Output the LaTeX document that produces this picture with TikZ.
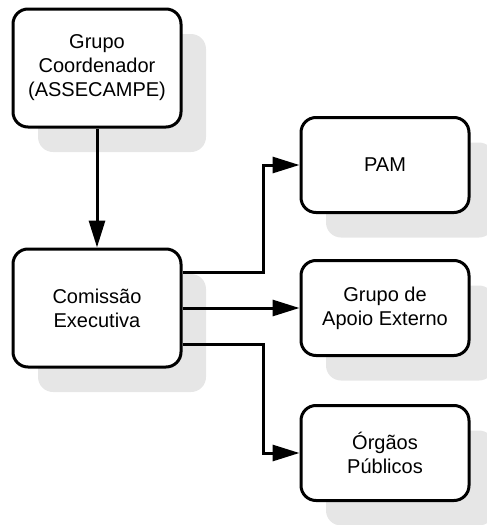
\documentclass[tikz,border=0pt]{standalone}
\usepackage{fontspec}
\setmainfont{Liberation Sans}
\usetikzlibrary{shapes,arrows.meta,shadows}
\definecolor{shadowgray}{RGB}{230,230,230}

\tikzset{
  box/.style={shape=rectangle,rounded corners=15pt,draw=black,fill=white,align=center,line width=3pt,
    minimum width=168pt,minimum height=95pt,font=\fontsize{20}{24}\selectfont,
    drop shadow={shadow xshift=25pt,shadow yshift=-25pt,fill=shadowgray,opacity=1}},
  tallbox/.style={box,minimum height=118pt},
  link/.style={-{Triangle[length=27pt,width=16pt]},draw=black,line width=3pt}
}

\begin{document}
\begin{tikzpicture}[x=1pt,y=-1pt]
\useasboundingbox (0,0) rectangle (487,525);
\node[tallbox] (coord) at (97,68) {Grupo\\Coordenador\\(ASSECAMPE)};
\node[tallbox] (com) at (97,308) {Comissão\\Executiva};
\node[box] (pam) at (385,165) {PAM};
\node[box] (apoio) at (385,308) {Grupo de\\Apoio Externo};
\node[box] (org) at (385,453) {Órgãos\\Públicos};

\draw [link] (coord) -- (com);
\draw [link] ([yshift=36pt]com.east) -- ++(81,0) |- (pam);
\draw [link] (com) -- (apoio);
\draw [link] ([yshift=-36pt]com.east) -- ++(81,0) |- (org);
\end{tikzpicture}
\end{document}
